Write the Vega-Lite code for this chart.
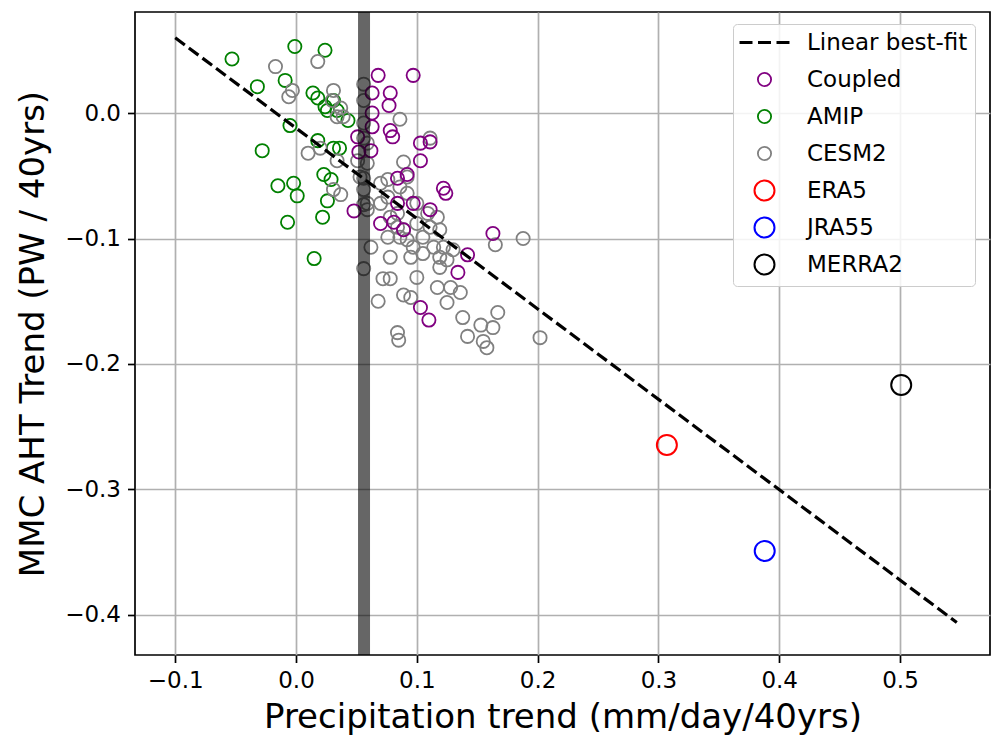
{
  "$schema": "https://vega.github.io/schema/vega-lite/v6.json",
  "width": 855,
  "height": 643,
  "autosize": {"type": "none"},
  "padding": {"left": 135, "top": 12, "right": 2, "bottom": 88},
  "background": "white",
  "config": {
    "font": "DejaVu Sans",
    "view": {"stroke": "black", "strokeWidth": 1.7},
    "axis": {
      "domain": false,
      "grid": true,
      "gridColor": "#b0b0b0",
      "gridWidth": 1.7,
      "tickColor": "black",
      "tickSize": 7.5,
      "tickWidth": 1.7,
      "labelFont": "DejaVu Sans",
      "labelFontSize": 23,
      "labelColor": "black",
      "labelPadding": 7,
      "titleFont": "DejaVu Sans",
      "titleFontSize": 34,
      "titleFontWeight": "normal",
      "titleColor": "black"
    },
    "legend": {
      "padding": 7,
      "fillColor": "rgba(255,255,255,0.85)",
      "strokeColor": "#cccccc",
      "cornerRadius": 4,
      "labelFont": "DejaVu Sans",
      "labelFontSize": 23,
      "labelColor": "black",
      "labelOffset": 31,
      "symbolOffset": 13,
      "rowPadding": 8,
      "gridAlign": "all",
      "symbolOpacity": 1,
      "labelLimit": 400
    }
  },
  "datasets": {
    "pts": [
      {"g": "AMIP", "x": -0.053, "y": 0.043},
      {"g": "AMIP", "x": -0.001, "y": 0.053},
      {"g": "AMIP", "x": 0.024, "y": 0.050},
      {"g": "AMIP", "x": -0.032, "y": 0.021},
      {"g": "AMIP", "x": -0.009, "y": 0.026},
      {"g": "AMIP", "x": 0.014, "y": 0.016},
      {"g": "AMIP", "x": 0.018, "y": 0.012},
      {"g": "AMIP", "x": 0.026, "y": 0.002},
      {"g": "AMIP", "x": 0.031, "y": 0.010},
      {"g": "AMIP", "x": 0.034, "y": 0.002},
      {"g": "AMIP", "x": 0.043, "y": -0.006},
      {"g": "AMIP", "x": -0.005, "y": -0.010},
      {"g": "AMIP", "x": 0.018, "y": -0.022},
      {"g": "AMIP", "x": 0.031, "y": -0.028},
      {"g": "AMIP", "x": 0.036, "y": -0.028},
      {"g": "AMIP", "x": -0.028, "y": -0.030},
      {"g": "AMIP", "x": -0.015, "y": -0.058},
      {"g": "AMIP", "x": -0.002, "y": -0.056},
      {"g": "AMIP", "x": 0.001, "y": -0.066},
      {"g": "AMIP", "x": -0.007, "y": -0.087},
      {"g": "AMIP", "x": 0.023, "y": -0.049},
      {"g": "AMIP", "x": 0.029, "y": -0.053},
      {"g": "AMIP", "x": 0.026, "y": -0.070},
      {"g": "AMIP", "x": 0.022, "y": -0.083},
      {"g": "AMIP", "x": 0.015, "y": -0.116},
      {"g": "AMIP", "x": 0.024, "y": 0.005},
      {"g": "CESM2", "x": -0.017, "y": 0.037},
      {"g": "CESM2", "x": 0.018, "y": 0.041},
      {"g": "CESM2", "x": -0.003, "y": 0.018},
      {"g": "CESM2", "x": -0.006, "y": 0.013},
      {"g": "CESM2", "x": 0.031, "y": 0.018},
      {"g": "CESM2", "x": 0.030, "y": 0.010},
      {"g": "CESM2", "x": 0.037, "y": 0.004},
      {"g": "CESM2", "x": 0.034, "y": -0.003},
      {"g": "CESM2", "x": 0.039, "y": -0.003},
      {"g": "CESM2", "x": 0.010, "y": -0.032},
      {"g": "CESM2", "x": 0.020, "y": -0.028},
      {"g": "CESM2", "x": 0.034, "y": -0.038},
      {"g": "CESM2", "x": 0.056, "y": 0.023},
      {"g": "CESM2", "x": 0.056, "y": -0.008},
      {"g": "CESM2", "x": 0.056, "y": -0.020},
      {"g": "CESM2", "x": 0.059, "y": -0.024},
      {"g": "CESM2", "x": 0.086, "y": -0.005},
      {"g": "CESM2", "x": 0.111, "y": -0.020},
      {"g": "CESM2", "x": 0.089, "y": -0.039},
      {"g": "CESM2", "x": 0.059, "y": -0.040},
      {"g": "CESM2", "x": 0.053, "y": -0.051},
      {"g": "CESM2", "x": 0.076, "y": -0.053},
      {"g": "CESM2", "x": 0.092, "y": -0.051},
      {"g": "CESM2", "x": 0.086, "y": -0.059},
      {"g": "CESM2", "x": 0.070, "y": -0.056},
      {"g": "CESM2", "x": 0.076, "y": -0.067},
      {"g": "CESM2", "x": 0.092, "y": -0.064},
      {"g": "CESM2", "x": 0.031, "y": -0.061},
      {"g": "CESM2", "x": 0.037, "y": -0.065},
      {"g": "CESM2", "x": 0.059, "y": -0.072},
      {"g": "CESM2", "x": 0.059, "y": -0.077},
      {"g": "CESM2", "x": 0.070, "y": -0.072},
      {"g": "CESM2", "x": 0.084, "y": -0.080},
      {"g": "CESM2", "x": 0.100, "y": -0.072},
      {"g": "CESM2", "x": 0.109, "y": -0.080},
      {"g": "CESM2", "x": 0.117, "y": -0.083},
      {"g": "CESM2", "x": 0.078, "y": -0.083},
      {"g": "CESM2", "x": 0.100, "y": -0.088},
      {"g": "CESM2", "x": 0.084, "y": -0.091},
      {"g": "CESM2", "x": 0.111, "y": -0.091},
      {"g": "CESM2", "x": 0.119, "y": -0.093},
      {"g": "CESM2", "x": 0.089, "y": -0.093},
      {"g": "CESM2", "x": 0.076, "y": -0.099},
      {"g": "CESM2", "x": 0.086, "y": -0.099},
      {"g": "CESM2", "x": 0.105, "y": -0.099},
      {"g": "CESM2", "x": 0.092, "y": -0.101},
      {"g": "CESM2", "x": 0.062, "y": -0.107},
      {"g": "CESM2", "x": 0.097, "y": -0.107},
      {"g": "CESM2", "x": 0.114, "y": -0.107},
      {"g": "CESM2", "x": 0.122, "y": -0.107},
      {"g": "CESM2", "x": 0.130, "y": -0.109},
      {"g": "CESM2", "x": 0.078, "y": -0.115},
      {"g": "CESM2", "x": 0.095, "y": -0.115},
      {"g": "CESM2", "x": 0.105, "y": -0.112},
      {"g": "CESM2", "x": 0.119, "y": -0.115},
      {"g": "CESM2", "x": 0.125, "y": -0.117},
      {"g": "CESM2", "x": 0.119, "y": -0.123},
      {"g": "CESM2", "x": 0.056, "y": -0.124},
      {"g": "CESM2", "x": 0.100, "y": -0.131},
      {"g": "CESM2", "x": 0.072, "y": -0.132},
      {"g": "CESM2", "x": 0.078, "y": -0.132},
      {"g": "CESM2", "x": 0.117, "y": -0.139},
      {"g": "CESM2", "x": 0.128, "y": -0.139},
      {"g": "CESM2", "x": 0.136, "y": -0.143},
      {"g": "CESM2", "x": 0.089, "y": -0.145},
      {"g": "CESM2", "x": 0.095, "y": -0.147},
      {"g": "CESM2", "x": 0.125, "y": -0.151},
      {"g": "CESM2", "x": 0.068, "y": -0.150},
      {"g": "CESM2", "x": 0.138, "y": -0.163},
      {"g": "CESM2", "x": 0.153, "y": -0.169},
      {"g": "CESM2", "x": 0.163, "y": -0.171},
      {"g": "CESM2", "x": 0.167, "y": -0.159},
      {"g": "CESM2", "x": 0.142, "y": -0.178},
      {"g": "CESM2", "x": 0.155, "y": -0.182},
      {"g": "CESM2", "x": 0.158, "y": -0.187},
      {"g": "CESM2", "x": 0.084, "y": -0.175},
      {"g": "CESM2", "x": 0.085, "y": -0.181},
      {"g": "CESM2", "x": 0.188, "y": -0.100},
      {"g": "CESM2", "x": 0.165, "y": -0.105},
      {"g": "CESM2", "x": 0.202, "y": -0.179},
      {"g": "CESM2", "x": 0.056, "y": -0.061},
      {"g": "CESM2", "x": 0.056, "y": -0.073},
      {"g": "CESM2", "x": 0.056, "y": 0.010},
      {"g": "CESM2", "x": 0.051, "y": -0.038},
      {"g": "CESM2", "x": 0.056, "y": -0.052},
      {"g": "Coupled", "x": 0.068, "y": 0.030},
      {"g": "Coupled", "x": 0.097, "y": 0.030},
      {"g": "Coupled", "x": 0.063, "y": 0.016},
      {"g": "Coupled", "x": 0.078, "y": 0.016},
      {"g": "Coupled", "x": 0.077, "y": 0.006},
      {"g": "Coupled", "x": 0.063, "y": 0.000},
      {"g": "Coupled", "x": 0.063, "y": -0.011},
      {"g": "Coupled", "x": 0.078, "y": -0.014},
      {"g": "Coupled", "x": 0.080, "y": -0.019},
      {"g": "Coupled", "x": 0.051, "y": -0.019},
      {"g": "Coupled", "x": 0.062, "y": -0.030},
      {"g": "Coupled", "x": 0.052, "y": -0.031},
      {"g": "Coupled", "x": 0.103, "y": -0.024},
      {"g": "Coupled", "x": 0.111, "y": -0.023},
      {"g": "Coupled", "x": 0.103, "y": -0.038},
      {"g": "Coupled", "x": 0.092, "y": -0.049},
      {"g": "Coupled", "x": 0.084, "y": -0.052},
      {"g": "Coupled", "x": 0.122, "y": -0.060},
      {"g": "Coupled", "x": 0.124, "y": -0.064},
      {"g": "Coupled", "x": 0.048, "y": -0.078},
      {"g": "Coupled", "x": 0.084, "y": -0.072},
      {"g": "Coupled", "x": 0.097, "y": -0.072},
      {"g": "Coupled", "x": 0.111, "y": -0.077},
      {"g": "Coupled", "x": 0.081, "y": -0.087},
      {"g": "Coupled", "x": 0.089, "y": -0.093},
      {"g": "Coupled", "x": 0.070, "y": -0.088},
      {"g": "Coupled", "x": 0.163, "y": -0.096},
      {"g": "Coupled", "x": 0.142, "y": -0.113},
      {"g": "Coupled", "x": 0.134, "y": -0.127},
      {"g": "Coupled", "x": 0.103, "y": -0.155},
      {"g": "Coupled", "x": 0.110, "y": -0.165},
      {"g": "ERA5", "x": 0.307, "y": -0.2645},
      {"g": "JRA55", "x": 0.388, "y": -0.349},
      {"g": "MERRA2", "x": 0.501, "y": -0.2167}
    ],
    "fit": [
      {"x": -0.1, "y": 0.060},
      {"x": 0.547, "y": -0.406}
    ],
    "bar": [
      {"x": 0.0563}
    ]
  },
  "layer": [
    {
      "data": {"name": "pts"},
      "mark": {"type": "point", "filled": false, "opacity": 1},
      "encoding": {
        "x": {
          "field": "x", "type": "quantitative",
          "scale": {"domain": [-0.1333, 0.5745], "nice": false, "zero": false},
          "axis": {"title": "Precipitation trend (mm/day/40yrs)", "values": [-0.1, 0, 0.1, 0.2, 0.3, 0.4, 0.5], "format": ".1f", "titlePadding": 8}
        },
        "y": {
          "field": "y", "type": "quantitative",
          "scale": {"domain": [-0.4319, 0.0805], "nice": false, "zero": false},
          "axis": {"title": "MMC AHT Trend (PW / 40yrs)", "values": [-0.4, -0.3, -0.2, -0.1, 0], "format": ".1f", "titlePadding": 14}
        },
        "stroke": {
          "field": "g", "type": "nominal",
          "scale": {
            "domain": ["Linear best-fit", "Coupled", "AMIP", "CESM2", "ERA5", "JRA55", "MERRA2"],
            "range": ["#000000", "#800080", "#008000", "#808080", "#ff0000", "#0000ff", "#000000"]
          },
          "legend": {"title": null, "orient": "none", "legendX": 598, "legendY": 12}
        },
        "shape": {
          "field": "g", "type": "nominal",
          "scale": {
            "domain": ["Linear best-fit", "Coupled", "AMIP", "CESM2", "ERA5", "JRA55", "MERRA2"],
            "range": ["M-4.08,0H-1.96M-1.06,0H1.06M1.96,0H4.08", "circle", "circle", "circle", "circle", "circle", "circle"]
          },
          "legend": {"title": null, "orient": "none", "legendX": 598, "legendY": 12}
        },
        "size": {
          "field": "g", "type": "nominal",
          "scale": {
            "type": "ordinal",
            "domain": ["Linear best-fit", "Coupled", "AMIP", "CESM2", "ERA5", "JRA55", "MERRA2"],
            "range": [150, 175, 175, 175, 400, 400, 400]
          },
          "legend": {"title": null, "orient": "none", "legendX": 598, "legendY": 12}
        },
        "strokeWidth": {
          "field": "g", "type": "nominal",
          "scale": {
            "type": "ordinal",
            "domain": ["Linear best-fit", "Coupled", "AMIP", "CESM2", "ERA5", "JRA55", "MERRA2"],
            "range": [3.2, 1.8, 1.8, 1.8, 2, 2, 2]
          },
          "legend": {"title": null, "orient": "none", "legendX": 598, "legendY": 12}
        }
      }
    },
    {
      "data": {"name": "bar"},
      "mark": {"type": "rule", "color": "black", "strokeWidth": 12, "opacity": 0.6},
      "encoding": {
        "x": {"field": "x", "type": "quantitative"}
      }
    },
    {
      "data": {"name": "fit"},
      "mark": {"type": "line", "color": "black", "strokeWidth": 3.2, "strokeDash": [12, 5]},
      "encoding": {
        "x": {"field": "x", "type": "quantitative"},
        "y": {"field": "y", "type": "quantitative"}
      }
    }
  ]
}
